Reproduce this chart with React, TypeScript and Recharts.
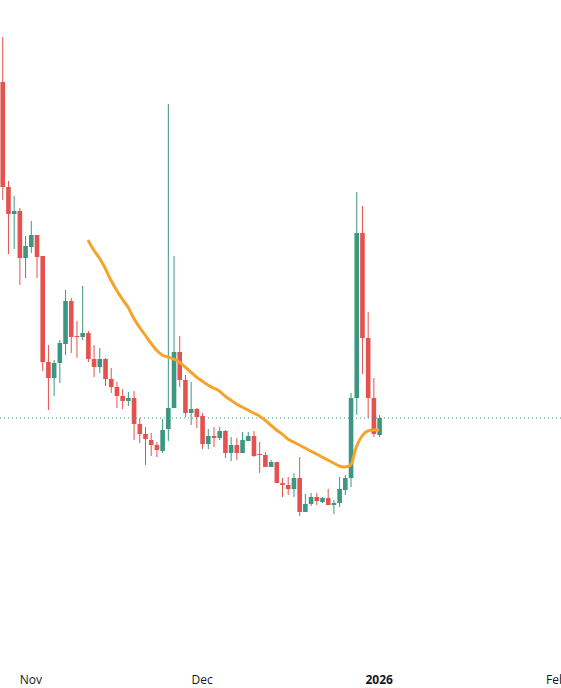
import React from 'react';
import { ComposedChart, Bar, Line, XAxis, YAxis, ReferenceLine } from 'recharts';

// Daily candles, index 0 = Oct 27 (2025)
const opens = [5.88, 4.83, 4.56, 4.59, 4.12, 4.23, 4.35, 4.14, 3.08, 2.92, 3.07, 3.26, 3.69, 3.34, 3.33, 3.37, 3.11, 3.03, 3.11, 2.91, 2.83, 2.74, 2.69, 2.72, 2.46, 2.36, 2.30, 2.25, 2.19, 2.41, 2.62, 3.18, 2.90, 2.57, 2.61, 2.54, 2.26, 2.34, 2.32, 2.39, 2.17, 2.25, 2.17, 2.29, 2.34, 2.16, 2.15, 2.03, 2.08, 1.87, 1.85, 1.81, 1.92, 1.58, 1.66, 1.73, 1.68, 1.72, 1.65, 1.67, 1.80, 1.92, 2.72, 4.37, 3.32, 2.72, 2.35];
const highs = [6.33, 4.89, 4.74, 4.62, 4.34, 4.49, 4.35, 4.14, 3.25, 3.10, 3.30, 3.80, 3.72, 3.49, 3.84, 3.39, 3.25, 3.22, 3.12, 3.02, 2.88, 2.81, 2.78, 2.79, 2.52, 2.43, 2.37, 2.28, 2.51, 5.66, 4.14, 3.34, 2.95, 2.88, 2.62, 2.57, 2.41, 2.43, 2.43, 2.40, 2.33, 2.32, 2.38, 2.38, 2.39, 2.28, 2.18, 2.10, 2.08, 1.92, 1.93, 1.97, 2.13, 1.76, 1.77, 1.77, 1.73, 1.81, 1.70, 1.93, 1.95, 2.77, 4.78, 4.64, 3.58, 2.92, 2.55];
const lows = [4.70, 4.16, 4.21, 3.85, 3.92, 4.17, 3.92, 2.99, 2.60, 2.74, 2.87, 3.15, 3.17, 3.12, 3.30, 3.08, 2.93, 2.97, 2.84, 2.77, 2.62, 2.61, 2.64, 2.30, 2.27, 2.05, 2.14, 2.13, 2.17, 2.29, 2.62, 2.83, 2.53, 2.45, 2.42, 2.21, 2.21, 2.23, 2.30, 2.12, 2.09, 2.10, 2.17, 2.29, 2.13, 1.97, 2.03, 2.03, 1.87, 1.73, 1.75, 1.73, 1.54, 1.58, 1.64, 1.65, 1.67, 1.65, 1.56, 1.63, 1.75, 1.83, 2.55, 2.96, 2.52, 2.33, 2.33];
const closes = [4.83, 4.56, 4.59, 4.12, 4.24, 4.35, 4.13, 3.08, 2.92, 3.07, 3.27, 3.69, 3.33, 3.33, 3.37, 3.11, 3.03, 3.11, 2.91, 2.83, 2.74, 2.69, 2.72, 2.46, 2.36, 2.31, 2.25, 2.20, 2.40, 2.62, 3.18, 2.90, 2.57, 2.61, 2.53, 2.26, 2.34, 2.32, 2.39, 2.17, 2.25, 2.17, 2.30, 2.34, 2.14, 2.15, 2.03, 2.08, 1.87, 1.85, 1.81, 1.92, 1.58, 1.66, 1.73, 1.69, 1.72, 1.65, 1.67, 1.81, 1.92, 2.72, 4.37, 3.32, 2.72, 2.36, 2.52];

// Moving average, starting at candle index 15
const maStart = 15;
const maValues = [4.30, 4.20, 4.12, 4.02, 3.90, 3.80, 3.71, 3.63, 3.52, 3.43, 3.35, 3.27, 3.20, 3.15, 3.13, 3.11, 3.08, 3.03, 2.98, 2.93, 2.89, 2.85, 2.82, 2.79, 2.74, 2.70, 2.66, 2.63, 2.60, 2.57, 2.54, 2.50, 2.45, 2.40, 2.36, 2.31, 2.28, 2.25, 2.22, 2.19, 2.16, 2.13, 2.10, 2.07, 2.04, 2.03, 2.05, 2.23, 2.34, 2.39, 2.40, 2.40];

const tickIndex = [5, 35, 66, 97];
const tickLabels = ['Nov', 'Dec', '2026', 'Feb'];
const boldTick = '2026';
const lastPrice = 2.52;

const UP = '#3d9681';
const DOWN = '#e5514e';
const MA_COLOR = '#f5a42a';

const data = opens.map((o, i) => ({
  i,
  open: o,
  high: highs[i],
  low: lows[i],
  close: closes[i],
  range: [lows[i], highs[i]],
  ma: i >= maStart && i - maStart < maValues.length ? maValues[i - maStart] : null,
}));

const Candle = (props: any) => {
  const { x, y, width, height, payload } = props;
  if (!payload) return null;
  const top = Math.min(y, y + height);
  const h = Math.abs(height);
  const { open, close, high, low } = payload;
  const span = high - low;
  const toPx = (v: number) => (span > 0 ? top + ((high - v) / span) * h : top);
  const up = close >= open;
  const color = up ? UP : DOWN;
  const cx = x + width / 2;
  const bTop = toPx(Math.max(open, close));
  const bBot = toPx(Math.min(open, close));
  return (
    <g>
      <line x1={cx} x2={cx} y1={top} y2={top + h} stroke={color} strokeWidth={1} />
      <rect x={x} y={bTop} width={width} height={Math.max(1, bBot - bTop)} fill={color} />
    </g>
  );
};

const Tick = (props: any) => {
  const { x, y, payload } = props;
  const idx = tickIndex.indexOf(payload.value);
  const label = idx >= 0 ? tickLabels[idx] : '';
  return (
    <text
      x={x}
      y={y - 3}
      dy="0.71em"
      textAnchor="middle"
      fontSize={12}
      fontFamily="'Open Sans', 'Noto Sans', sans-serif"
      fontWeight={label === boldTick ? 700 : 400}
      fill="#131722"
    >
      {label}
    </text>
  );
};

export default function App() {
  return (
    <div style={{ width: 561, height: 688, background: '#fff' }}>
      <style>{'body{margin:0;}'}</style>
      <ComposedChart
        width={561}
        height={688}
        data={data}
        margin={{ top: 0, right: 0, bottom: 0, left: 0 }}
      >
        <XAxis
          dataKey="i"
          type="number"
          domain={[-0.403, 97.85]}
          allowDataOverflow
          ticks={tickIndex}
          interval={0}
          tick={<Tick />}
          axisLine={false}
          tickLine={false}
          height={18}
        />
        <YAxis hide domain={[0, 6.7]} allowDataOverflow />
        <ReferenceLine y={lastPrice} stroke="#3f9686" strokeDasharray="1 3" strokeWidth={1} />
        <Bar dataKey="range" barSize={4.6} shape={<Candle />} isAnimationActive={false} />
        <Line
          dataKey="ma"
          type="monotone"
          stroke={MA_COLOR}
          strokeWidth={3}
          dot={false}
          activeDot={false}
          connectNulls={false}
          isAnimationActive={false}
        />
      </ComposedChart>
    </div>
  );
}
